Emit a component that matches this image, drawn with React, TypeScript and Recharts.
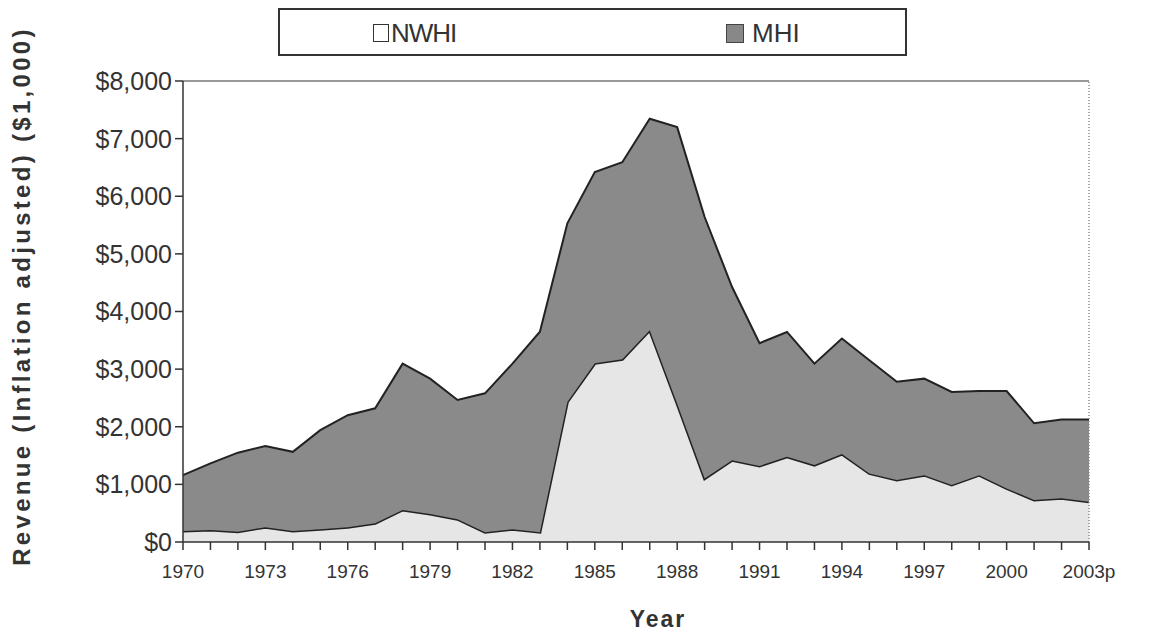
import React from "react";
import {
  AreaChart,
  Area,
  XAxis,
  YAxis,
  Legend,
  ReferenceLine,
  Label,
} from "recharts";

const years = [
  1970, 1971, 1972, 1973, 1974, 1975, 1976, 1977, 1978, 1979, 1980, 1981,
  1982, 1983, 1984, 1985, 1986, 1987, 1988, 1989, 1990, 1991, 1992, 1993,
  1994, 1995, 1996, 1997, 1998, 1999, 2000, 2001, 2002, 2003,
];

// NWHI revenue ($1,000, inflation adjusted)
const nwhi = [
  190, 210, 180, 255, 190, 220, 255, 325, 555, 485, 395, 170,
  220, 170, 2430, 3100, 3170, 3675, 2400, 1100, 1420, 1320, 1480, 1335,
  1525, 1190, 1075, 1160, 990, 1160, 930, 730, 760, 700,
];

// MHI revenue ($1,000, inflation adjusted)
const mhi = [
  970, 1155, 1370, 1410, 1375, 1720, 1945, 1995, 2540, 2350, 2070, 2410,
  2875, 3480, 3100, 3320, 3420, 3670, 4800, 4540, 3005, 2130, 2165, 1760,
  2005, 1965, 1705, 1675, 1615, 1460, 1690, 1330, 1365, 1425,
];

const yTicks = [0, 1000, 2000, 3000, 4000, 5000, 6000, 7000, 8000];
const seriesNames = ["NWHI", "MHI"];

const data = years.map((y, i) => ({ year: y, NWHI: nwhi[i], MHI: mhi[i] }));

const FONT = "'Liberation Sans', Arial, Helvetica, sans-serif";
const TEXT = "#333";
const LEGEND_H = 48;

const fmtDollar = (v: number) => "$" + v.toLocaleString("en-US");

const XTick = (props: any) => {
  const { x, y, payload } = props;
  const v = payload.value as number;
  let label = "";
  if ((v - 1970) % 3 === 0) label = v === 2003 ? "2003p" : String(v);
  return (
    <text
      x={x}
      y={y}
      dy="0.71em"
      textAnchor="middle"
      fontFamily={FONT}
      fontSize={19}
      fill={TEXT}
    >
      {label}
    </text>
  );
};

const YTick = (props: any) => {
  const { x, y, payload } = props;
  return (
    <text
      x={x}
      y={y}
      dy="0.355em"
      textAnchor="end"
      fontFamily={FONT}
      fontSize={25}
      fill={TEXT}
    >
      {fmtDollar(payload.value)}
    </text>
  );
};

const YLabel = () => (
  <text
    x={30}
    y={296}
    transform="rotate(-90 30 296)"
    textAnchor="middle"
    fontFamily={FONT}
    fontSize={24}
    fontWeight="bold"
    letterSpacing={3.3}
    fill={TEXT}
  >
    Revenue (Inflation adjusted) ($1,000)
  </text>
);

const XLabel = () => (
  <text
    x={658}
    y={627}
    textAnchor="middle"
    fontFamily={FONT}
    fontSize={23}
    fontWeight="bold"
    letterSpacing={2}
    fill={TEXT}
  >
    Year
  </text>
);

const LegendBox = () => (
  <div
    style={{
      width: 629,
      height: LEGEND_H,
      boxSizing: "border-box",
      border: "2px solid #333",
      background: "#fff",
      position: "relative",
      fontFamily: FONT,
      fontSize: 26,
      color: TEXT,
    }}
  >
    <div
      style={{
        position: "absolute",
        left: 93,
        top: 9,
        display: "flex",
        alignItems: "center",
        lineHeight: "28px",
      }}
    >
      <span
        style={{
          display: "inline-block",
          width: 14,
          height: 16,
          border: "1.5px solid #333",
          background: "#fff",
          marginRight: 2,
        }}
      />
      <span style={{ letterSpacing: -1 }}>{seriesNames[0]}</span>
    </div>
    <div
      style={{
        position: "absolute",
        left: 446,
        top: 9,
        display: "flex",
        alignItems: "center",
        lineHeight: "28px",
      }}
    >
      <span
        style={{
          display: "inline-block",
          width: 16,
          height: 17,
          border: "1px solid #444",
          background: "#888",
          marginRight: 8,
        }}
      />
      <span>{seriesNames[1]}</span>
    </div>
  </div>
);

export default function App() {
  return (
    <div
      style={{
        position: "absolute",
        left: 0,
        top: 0,
        width: 1166,
        height: 637,
        background: "#fff",
      }}
    >
      <AreaChart
        width={1166}
        height={637}
        data={data}
        margin={{ top: 81 - LEGEND_H, right: 77, bottom: 0, left: 0 }}
      >
        <XAxis
          dataKey="year"
          type="number"
          domain={[1970, 2003]}
          ticks={years}
          interval={0}
          height={95}
          tickSize={8}
          tickMargin={15}
          tick={<XTick />}
          axisLine={{ stroke: "#333", strokeWidth: 1.5 }}
          tickLine={{ stroke: "#333", strokeWidth: 1.5 }}
        >
          <Label content={<XLabel />} />
        </XAxis>
        <YAxis
          type="number"
          domain={[0, 8000]}
          ticks={yTicks}
          interval={0}
          width={183}
          tickSize={8}
          tickMargin={3}
          tick={<YTick />}
          axisLine={{ stroke: "#333", strokeWidth: 1.5 }}
          tickLine={{ stroke: "#333", strokeWidth: 1.5 }}
        >
          <Label content={<YLabel />} />
        </YAxis>
        <Legend
          verticalAlign="top"
          align="left"
          wrapperStyle={{ top: 8, left: 278, width: 629 }}
          content={<LegendBox />}
        />
        <Area
          type="linear"
          dataKey="NWHI"
          stackId="1"
          stroke="#222"
          strokeWidth={3}
          fill="#e6e6e6"
          fillOpacity={1}
          isAnimationActive={false}
        />
        <Area
          type="linear"
          dataKey="MHI"
          stackId="1"
          stroke="#222"
          strokeWidth={2}
          fill="#8a8a8a"
          fillOpacity={1}
          isAnimationActive={false}
        />
        <ReferenceLine y={8000} stroke="#777" strokeWidth={1.5} />
        <ReferenceLine x={2003} stroke="#888" strokeWidth={1.5} strokeDasharray="1 2" />
      </AreaChart>
    </div>
  );
}
